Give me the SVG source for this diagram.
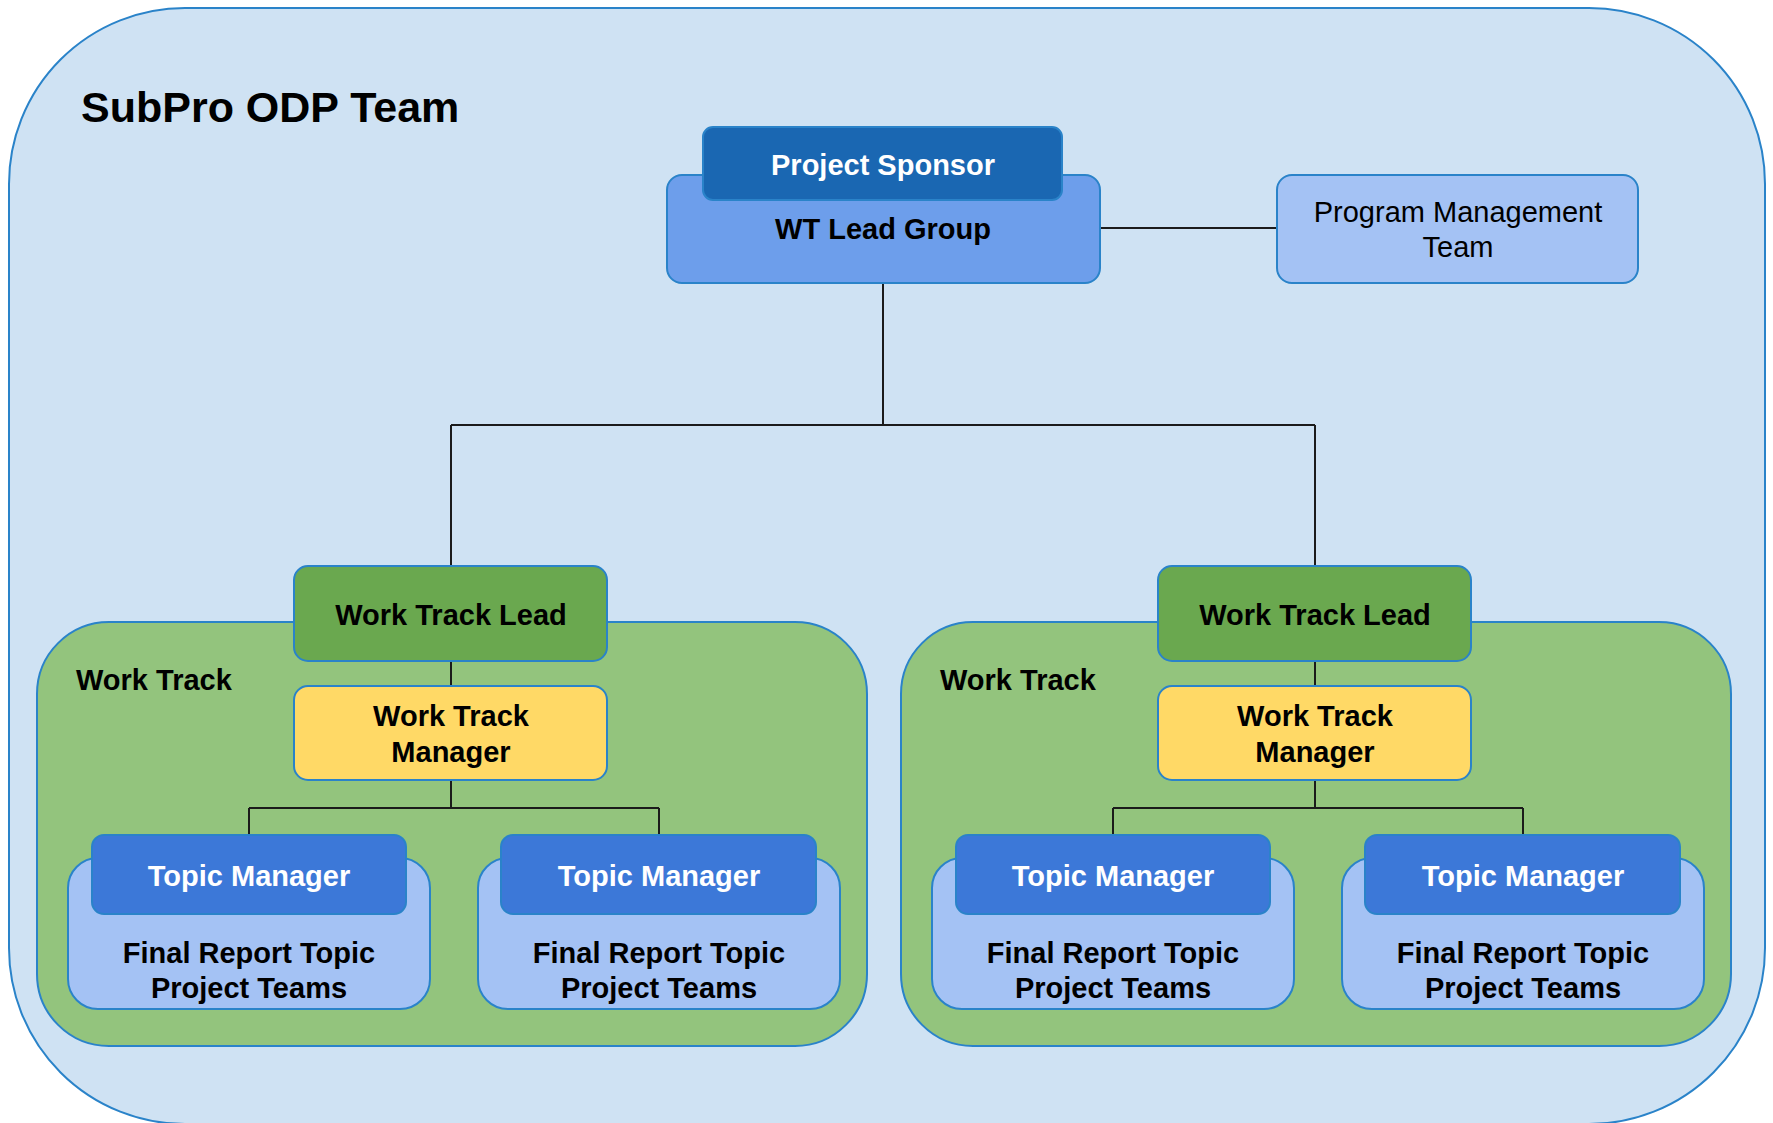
<svg xmlns="http://www.w3.org/2000/svg" width="1773" height="1123" viewBox="0 0 1773 1123">
<style>
.bx{stroke:#2a83c9;stroke-width:2}
.t{font-family:"Liberation Sans",Arial,sans-serif;font-size:29px;text-anchor:middle}
.b{font-weight:bold}
.w{fill:#ffffff}
.k{fill:#000000}
.ln{stroke:#1b1b1b;stroke-width:2;fill:none}
</style>
<rect width="1773" height="1123" fill="#ffffff"/>
<g id="team">
<rect class="bx" x="9" y="8" width="1756" height="1116" rx="176" ry="176" fill="#cfe2f3"/>
<text x="81" y="122" font-family="'Liberation Sans',Arial,sans-serif" font-size="43" font-weight="bold" fill="#000">SubPro ODP Team</text>
</g>
<g id="worktrack-left">
<rect class="bx" x="37" y="622" width="830" height="424" rx="72" fill="#93c47d"/>
<text class="t b k" x="76" y="690" style="text-anchor:start">Work Track</text>
</g>
<g id="worktrack-right">
<rect class="bx" x="901" y="622" width="830" height="424" rx="72" fill="#93c47d"/>
<text class="t b k" x="940" y="690" style="text-anchor:start">Work Track</text>
</g>
<g id="connectors">
<path class="ln" d="M1100 228 H1277"/>
<path class="ln" d="M883 283 V425 M451 425 H1315 M451 425 V566 M1315 425 V566"/>
<path class="ln" d="M451 661 V686 M1315 661 V686"/>
<path class="ln" d="M451 780 V808 M249 808 H659 M249 808 V835 M659 808 V835"/>
<path class="ln" d="M1315 780 V808 M1113 808 H1523 M1113 808 V835 M1523 808 V835"/>
</g>
<g id="wt-lead-group">
<rect class="bx" x="667" y="175" width="433" height="108" rx="15" fill="#6d9eeb"/>
<text class="t b k" x="883" y="239">WT Lead Group</text>
</g>
<g id="project-sponsor">
<rect class="bx" x="703" y="127" width="359" height="73" rx="10" fill="#1a67b2"/>
<text class="t b w" x="883" y="175">Project Sponsor</text>
</g>
<g id="program-management">
<rect class="bx" x="1277" y="175" width="361" height="108" rx="15" fill="#a4c2f4"/>
<text class="t k" x="1458" y="222">Program Management</text>
<text class="t k" x="1458" y="257">Team</text>
</g>
<g id="wtl-left">
<rect class="bx" x="294" y="566" width="313" height="95" rx="14" fill="#6aa84f"/>
<text class="t b k" x="451" y="625">Work Track Lead</text>
</g>
<g id="wtl-right">
<rect class="bx" x="1158" y="566" width="313" height="95" rx="14" fill="#6aa84f"/>
<text class="t b k" x="1315" y="625">Work Track Lead</text>
</g>
<g id="wtm-left">
<rect class="bx" x="294" y="686" width="313" height="94" rx="14" fill="#ffd966"/>
<text class="t b k" x="451" y="726">Work Track</text>
<text class="t b k" x="451" y="762">Manager</text>
</g>
<g id="wtm-right">
<rect class="bx" x="1158" y="686" width="313" height="94" rx="14" fill="#ffd966"/>
<text class="t b k" x="1315" y="726">Work Track</text>
<text class="t b k" x="1315" y="762">Manager</text>
</g>
<g id="fr-1">
<rect class="bx" x="68" y="858" width="362" height="151" rx="30" fill="#a4c2f4"/>
<text class="t b k" x="249" y="963">Final Report Topic</text>
<text class="t b k" x="249" y="998">Project Teams</text>
</g>
<g id="tm-1">
<rect class="bx" x="92" y="835" width="314" height="79" rx="12" fill="#3c78d8"/>
<text class="t b w" x="249" y="886">Topic Manager</text>
</g>
<g id="fr-2">
<rect class="bx" x="478" y="858" width="362" height="151" rx="30" fill="#a4c2f4"/>
<text class="t b k" x="659" y="963">Final Report Topic</text>
<text class="t b k" x="659" y="998">Project Teams</text>
</g>
<g id="tm-2">
<rect class="bx" x="501" y="835" width="315" height="79" rx="12" fill="#3c78d8"/>
<text class="t b w" x="659" y="886">Topic Manager</text>
</g>
<g id="fr-3">
<rect class="bx" x="932" y="858" width="362" height="151" rx="30" fill="#a4c2f4"/>
<text class="t b k" x="1113" y="963">Final Report Topic</text>
<text class="t b k" x="1113" y="998">Project Teams</text>
</g>
<g id="tm-3">
<rect class="bx" x="956" y="835" width="314" height="79" rx="12" fill="#3c78d8"/>
<text class="t b w" x="1113" y="886">Topic Manager</text>
</g>
<g id="fr-4">
<rect class="bx" x="1342" y="858" width="362" height="151" rx="30" fill="#a4c2f4"/>
<text class="t b k" x="1523" y="963">Final Report Topic</text>
<text class="t b k" x="1523" y="998">Project Teams</text>
</g>
<g id="tm-4">
<rect class="bx" x="1365" y="835" width="315" height="79" rx="12" fill="#3c78d8"/>
<text class="t b w" x="1523" y="886">Topic Manager</text>
</g>
</svg>
